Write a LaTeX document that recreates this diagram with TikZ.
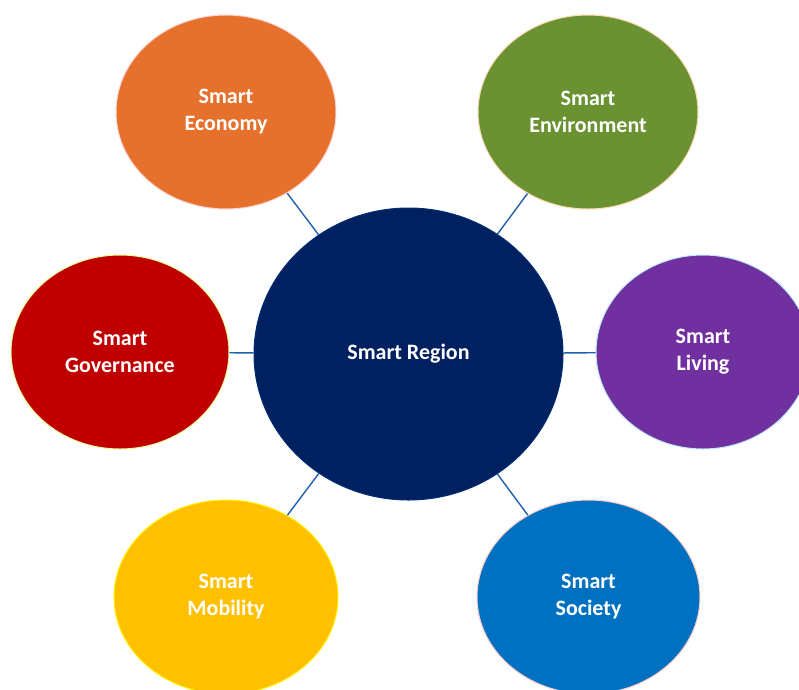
\documentclass[tikz,border=0pt]{standalone}
\usepackage{fontspec}
\setmainfont{Carlito}
\usetikzlibrary{shapes.geometric, positioning}
\definecolor{cEcon}{HTML}{E5712C}
\definecolor{cEnv}{HTML}{6A9232}
\definecolor{cGov}{HTML}{C00000}
\definecolor{cLiv}{HTML}{7030A0}
\definecolor{cMob}{HTML}{FFC000}
\definecolor{cSoc}{HTML}{0070C0}
\definecolor{cReg}{HTML}{002060}
\definecolor{cLink}{HTML}{1F5FAE}

\begin{document}
\begin{tikzpicture}[
        x=1pt, y=-1pt,
        every node/.style={font=\bfseries\fontsize{22}{27}\selectfont, text=white, align=center},
        area/.style={ellipse, inner sep=0pt, line width=1pt, minimum width=220pt, minimum height=194pt},
        hub/.style={ellipse, inner sep=0pt, line width=1pt, fill=cReg, draw=cReg!80!cSoc, minimum width=309pt, minimum height=292pt},
        link/.style={draw=cLink, line width=1.4pt},
        ]
        \useasboundingbox (0,0) rectangle (799,689);
        \node[hub] (region) at (408.5,354) {Smart Region};
        \node[area, fill=cEcon, draw=pink!70] (econ) at (226,112) {Smart\\Economy};
        \node[area, fill=cEnv, draw=orange!30] (env) at (588,112) {Smart\\Environment};
        \node[area, fill=cGov, draw=green!20!yellow!40, minimum width=218pt] (gov) at (120,352) {Smart\\Governance};
        \node[area, fill=cLiv, draw=cyan!25, minimum width=214pt] (liv) at (703,352) {Smart\\Living};
        \node[area, fill=cMob, draw=yellow, minimum width=224pt] (mob) at (226,597) {Smart\\Mobility};
        \node[area, fill=cSoc, draw=pink!80, minimum width=223pt] (soc) at (588.5,597) {Smart\\Society};

        \path[link] (region) -- (econ)
        (region) -- (env)
        (region) -- (gov)
        (region) -- (liv)
        (region) -- (mob)
        (region) -- (soc);
      \end{tikzpicture}
\end{document}
